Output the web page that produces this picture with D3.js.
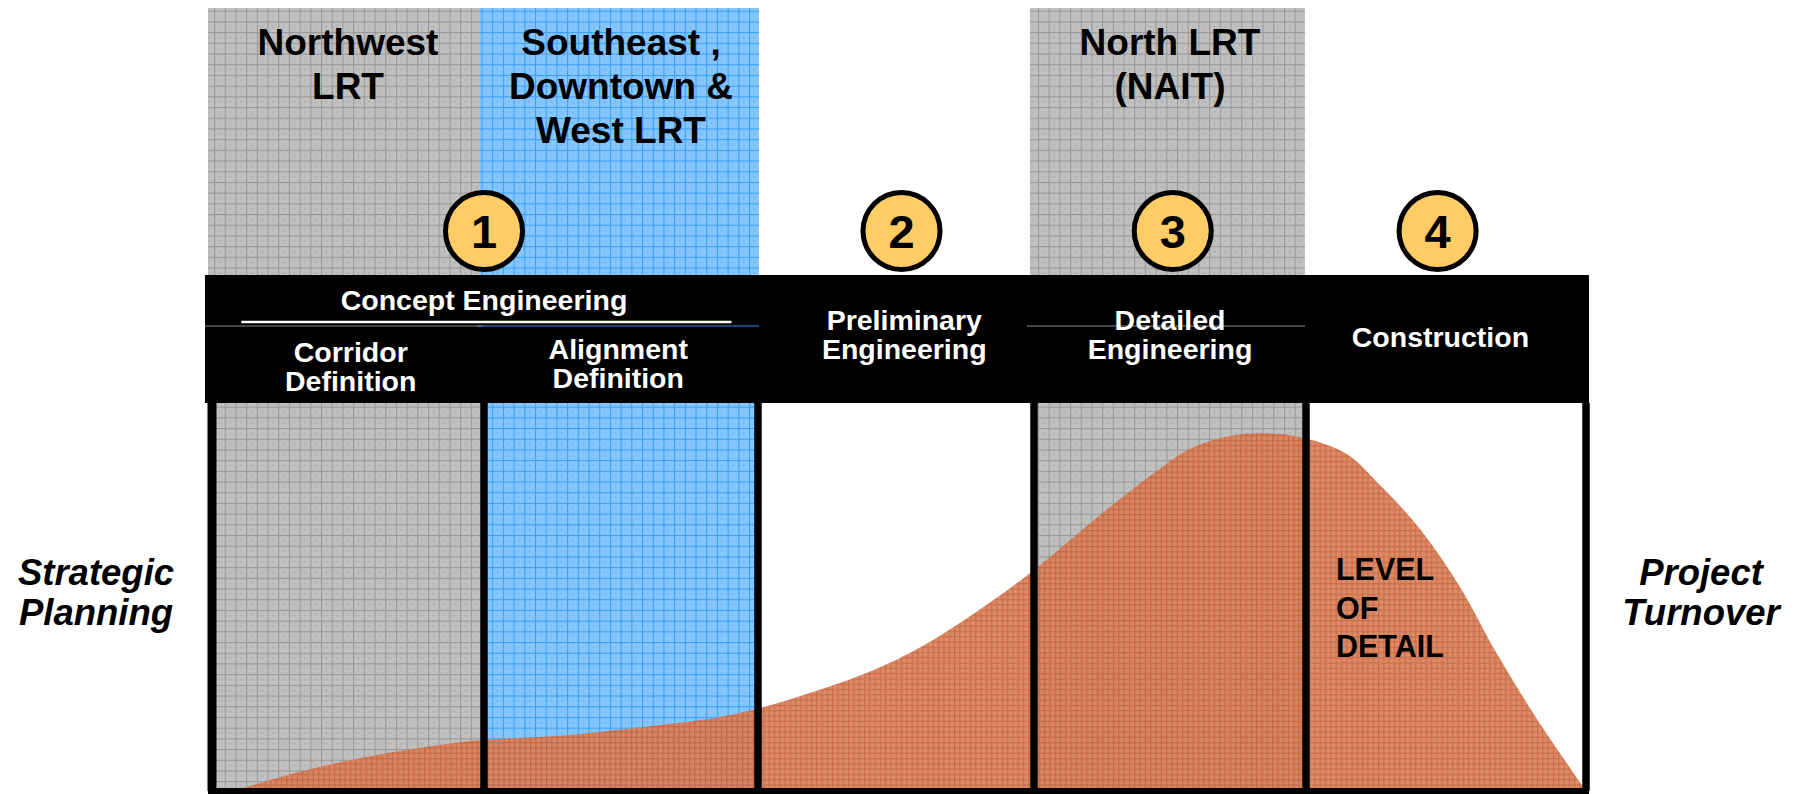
<!DOCTYPE html>
<html>
<head>
<meta charset="utf-8">
<script src="https://cdn.jsdelivr.net/npm/d3@7"></script>
<style>
  html, body { margin: 0; padding: 0; background: #fff; }
  svg { display: block; }
  text { font-family: "Liberation Sans", Arial, Helvetica, sans-serif; font-weight: bold; }
</style>
</head>
<body>
<svg id="chart" width="1805" height="794"></svg>
<script>
// ---------------- DATA ----------------
// Phase stages (x domain: stage index 0..5, boundaries between columns)
const stageNames = [["Corridor", "Definition"], ["Alignment", "Definition"], ["Preliminary", "Engineering"], ["Detailed", "Engineering"], ["Construction"]];
const stageLabelPos = [0.51, 1.49, 2.53, 3.50, 4.48];
const stageFill = ["gray", "blue", "white", "gray", "white"];

const groupLabel = "Concept Engineering";
const groupSpan = [0, 2];

// LRT projects placed over stages
const projectNames = [["Northwest", "LRT"], ["Southeast ,", "Downtown &", "West LRT"], ["North LRT", "(NAIT)"]];
const projectStart = [0, 1, 3];
const projectEnd = [1, 2, 4];
const projectFill = ["gray", "blue", "gray"];

// Numbered milestones
const milestoneLabels = ["1", "2", "3", "4"];
const milestonePos = [1.0, 2.52, 3.51, 4.47];

// Level of detail curve (x in stage units, value in % of panel height)
const detailX =     [0.08, 0.32, 0.57, 0.81, 0.98, 1.30, 1.54, 1.79, 1.98, 2.21, 2.42, 2.59, 2.80, 2.99, 3.22, 3.43, 3.58, 3.72, 3.85, 3.98, 4.14, 4.27, 4.41, 4.55, 4.68, 4.82, 5.0];
const detailLevel = [0,    4.9,  8.8,  11.6, 13.1, 14.4, 16.2, 18.3, 20.9, 25.8, 31.2, 37.1, 46.6, 56.4, 69.8, 81.4, 88.4, 91.5, 92.2, 91.2, 87.1, 78.4, 67.3, 52.6, 35.6, 19.1, 0];

const curveLabel = ["LEVEL", "OF", "DETAIL"];
const leftLabel = ["Strategic", "Planning"];
const rightLabel = ["Project", "Turnover"];

// ---------------- LAYOUT ----------------
const svg = d3.select("#chart");
const x = d3.scaleLinear().domain([0, 1, 2, 3, 4, 5]).range([212, 484, 758, 1034, 1306, 1586]);
const y = d3.scaleLinear().domain([0, 100]).range([791, 403]);

const bandTop = 8, headerTop = 275, headerBottom = 403, bodyBottom = 791;

// ---------------- PATTERNS ----------------
const defs = svg.append("defs");
function gridPattern(id, base, line, size, lw, dot) {
  const p = defs.append("pattern").attr("id", id).attr("patternUnits", "userSpaceOnUse")
    .attr("width", size).attr("height", size);
  p.append("rect").attr("width", size).attr("height", size).attr("fill", base);
  if (dot) {
    p.append("rect").attr("x", size / 2 - 1).attr("y", size / 2 - 1).attr("width", 2).attr("height", 2).attr("fill", dot);
  }
  p.append("rect").attr("width", size).attr("height", lw).attr("fill", line);
  p.append("rect").attr("width", lw).attr("height", size).attr("fill", line);
  return `url(#${id})`;
}
const fills = {
  gray: gridPattern("pGray", "#c0c0c0", "#999999", 10.7, 1.1, "#b0b0b0"),
  blue: gridPattern("pBlue", "#86c6ff", "#3aa0f5", 10.7, 1.1, "#6fb8f8"),
  white: "#ffffff"
};
const orangeFill = gridPattern("pOrange", "#d9825c", "#c9633b", 5.3, 1.2);

// ---------------- TOP PROJECT BANDS ----------------
const bands = svg.append("g");
projectNames.forEach((lines, i) => {
  const x0 = x(projectStart[i]) - 4, x1 = x(projectEnd[i]) + (i === 1 ? 1 : -1);
  bands.append("rect").attr("x", x0).attr("y", bandTop).attr("width", x1 - x0)
    .attr("height", headerTop - bandTop).attr("fill", fills[projectFill[i]]);
  const cx = x((projectStart[i] + projectEnd[i]) / 2);
  const t = bands.append("text").attr("text-anchor", "middle").attr("font-size", 37).attr("fill", "#000");
  lines.forEach((l, j) => t.append("tspan").attr("x", cx).attr("y", 55 + j * 44).text(l));
});

// ---------------- BODY COLUMNS ----------------
const body = svg.append("g");
stageFill.forEach((f, i) => {
  body.append("rect").attr("x", x(i)).attr("y", headerBottom).attr("width", x(i + 1) - x(i))
    .attr("height", bodyBottom - headerBottom).attr("fill", fills[f]);
});

// level of detail area
const clip = defs.append("clipPath").attr("id", "bodyClip");
clip.append("rect").attr("x", x(0)).attr("y", headerBottom).attr("width", x(5) - x(0)).attr("height", bodyBottom - headerBottom);
const area = d3.area().x(d => x(d[0])).y0(y(0)).y1(d => y(d[1])).curve(d3.curveCatmullRom.alpha(0.5));
const pts = detailX.map((v, i) => [v, detailLevel[i]]);
body.append("path").datum(pts).attr("d", area).attr("fill", orangeFill).attr("fill-opacity", 0.93)
  .attr("clip-path", "url(#bodyClip)");

// column borders
d3.range(0, 6).forEach(i => {
  body.append("line").attr("x1", x(i)).attr("x2", x(i)).attr("y1", headerBottom).attr("y2", bodyBottom)
    .attr("stroke", "#000").attr("stroke-width", i === 0 ? 9 : 7.5);
});
body.append("line").attr("x1", x(0) - 4).attr("x2", x(5) + 3).attr("y1", 791).attr("y2", 791)
  .attr("stroke", "#000").attr("stroke-width", 6);

// curve label
const cl = body.append("text").attr("font-size", 30.5).attr("fill", "#000");
curveLabel.forEach((l, j) => cl.append("tspan").attr("x", x(4.107)).attr("y", 580 + j * 38.5).text(l));

// ---------------- HEADER ----------------
const header = svg.append("g");
header.append("rect").attr("x", x(0) - 7).attr("y", headerTop).attr("width", x(5) + 3 - (x(0) - 7))
  .attr("height", headerBottom - headerTop).attr("fill", "#000");

// thin separator lines inherited from project bands
projectNames.forEach((_, i) => {
  header.append("line").attr("x1", x(projectStart[i]) - 7).attr("x2", x(projectEnd[i]) + (i === 1 ? 1 : -1))
    .attr("y1", 326).attr("y2", 326).attr("stroke", projectFill[i] === "blue" ? "#2b8ff0" : "#8a8a8a")
    .attr("stroke-width", 1.2);
});

// Concept Engineering group label
header.append("text").attr("x", x((groupSpan[0] + groupSpan[1]) / 2)).attr("y", 310)
  .attr("text-anchor", "middle").attr("font-size", 28.5).attr("fill", "#fff").text(groupLabel);
header.append("line").attr("x1", x(0.108)).attr("x2", x(1.903)).attr("y1", 322).attr("y2", 322)
  .attr("stroke", "#fff").attr("stroke-width", 2.5);

// stage labels
const stageBaselines = [[362, 391], [359, 388], [330, 359], [330, 359], [347]];
stageNames.forEach((lines, i) => {
  const t = header.append("text").attr("text-anchor", "middle").attr("font-size", 28.5).attr("fill", "#fff");
  lines.forEach((l, j) => t.append("tspan").attr("x", x(stageLabelPos[i])).attr("y", stageBaselines[i][j]).text(l));
});

// ---------------- MILESTONE CIRCLES ----------------
const ms = svg.append("g");
milestoneLabels.forEach((lab, i) => {
  const cx = x(milestonePos[i]);
  ms.append("circle").attr("cx", cx).attr("cy", 231).attr("r", 38.5)
    .attr("fill", "#ffcc66").attr("stroke", "#000").attr("stroke-width", 5);
  ms.append("text").attr("x", cx).attr("y", 248).attr("text-anchor", "middle")
    .attr("font-size", 47).attr("fill", "#000").text(lab);
});

// ---------------- SIDE LABELS ----------------
const lt = svg.append("text").attr("text-anchor", "middle").attr("font-size", 36.5).attr("font-style", "italic");
leftLabel.forEach((l, j) => lt.append("tspan").attr("x", 96).attr("y", 585 + j * 40).text(l));
const rt = svg.append("text").attr("text-anchor", "middle").attr("font-size", 36.5).attr("font-style", "italic");
rightLabel.forEach((l, j) => rt.append("tspan").attr("x", 1701).attr("y", 585 + j * 40).text(l));
</script>
</body>
</html>
